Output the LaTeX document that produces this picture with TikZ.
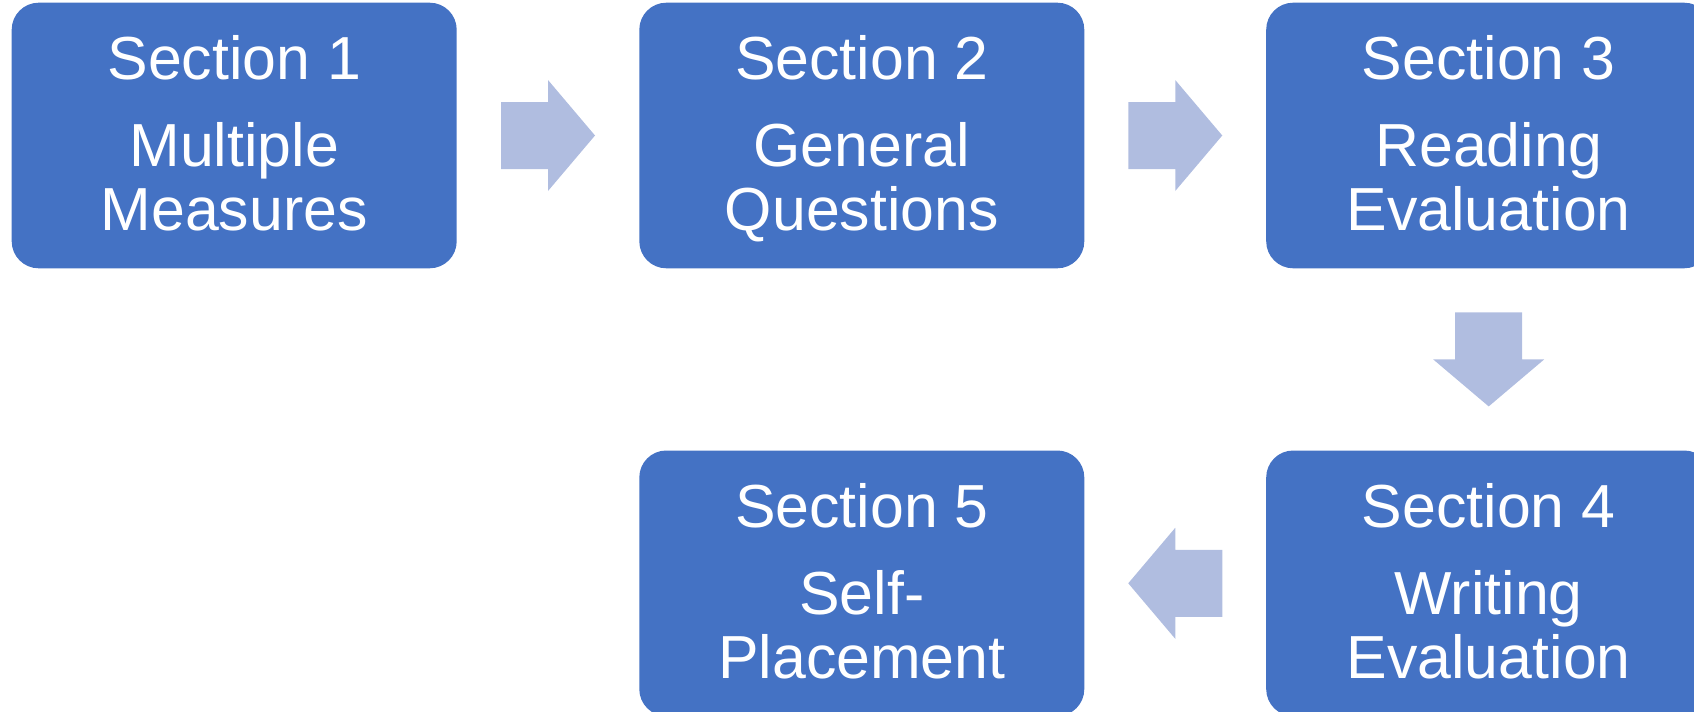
\documentclass[tikz,border=0pt]{standalone}
\usepackage{fontspec}
\setmainfont{Liberation Sans}
\usepackage{tikz}
\usetikzlibrary{calc}

\definecolor{boxblue}{HTML}{4472C4}
\definecolor{arrowblue}{RGB}{176,189,224}

% first and last line struts, so that all boxes set their text alike
\newcommand{\toprow}{\rule{0pt}{26pt}}
\newcommand{\lastrow}{\rule[-6.6pt]{0pt}{0pt}}

\tikzset{
  section/.style={fill=boxblue, text=white, rounded corners=13.5pt,
    minimum width=222.5pt, minimum height=132.8pt, inner sep=0pt,
    align=center, font=\fontsize{30.4}{31.7}\selectfont},
  blockarrow/.pic={
    \fill[arrowblue] (-47,-33.5) -- (0,-33.5) -- (0,-55.5) -- (47,0)
      -- (0,55.5) -- (0,33.5) -- (-47,33.5) -- cycle;
  }
}

\begin{document}
\begin{tikzpicture}[x=0.5pt, y=-0.5pt]
  \useasboundingbox (0,0) rectangle (1694,712);
  \clip (0,0) rectangle (1694,712);

  % Sections
  \node[section] (s1) at (234.2,135.5) {\toprow Section 1\\[12pt]Multiple\\Measures\lastrow};
  \node[section] (s2) at (861.8,135.5) {\toprow Section 2\\[12pt]General\\Questions\lastrow};
  \node[section] (s3) at (1488.7,135.5) {\toprow Section 3\\[12pt]Reading\\Evaluation\lastrow};
  \node[section] (s4) at (1488.7,583.3) {\toprow Section 4\\[12pt]Writing\\Evaluation\lastrow};
  \node[section] (s5) at (861.8,583.3) {\toprow Section 5\\[12pt]Self-\\Placement\lastrow};

  % Arrows
  \pic at ($(s1.east)!0.5!(s2.west)$) {blockarrow};
  \pic at ($(s2.east)!0.5!(s3.west)$) {blockarrow};
  \pic[rotate=-90] at ($(s3.south)!0.5!(s4.north)$) {blockarrow};
  \pic[rotate=180] at ($(s4.west)!0.5!(s5.east)$) {blockarrow};
\end{tikzpicture}
\end{document}
